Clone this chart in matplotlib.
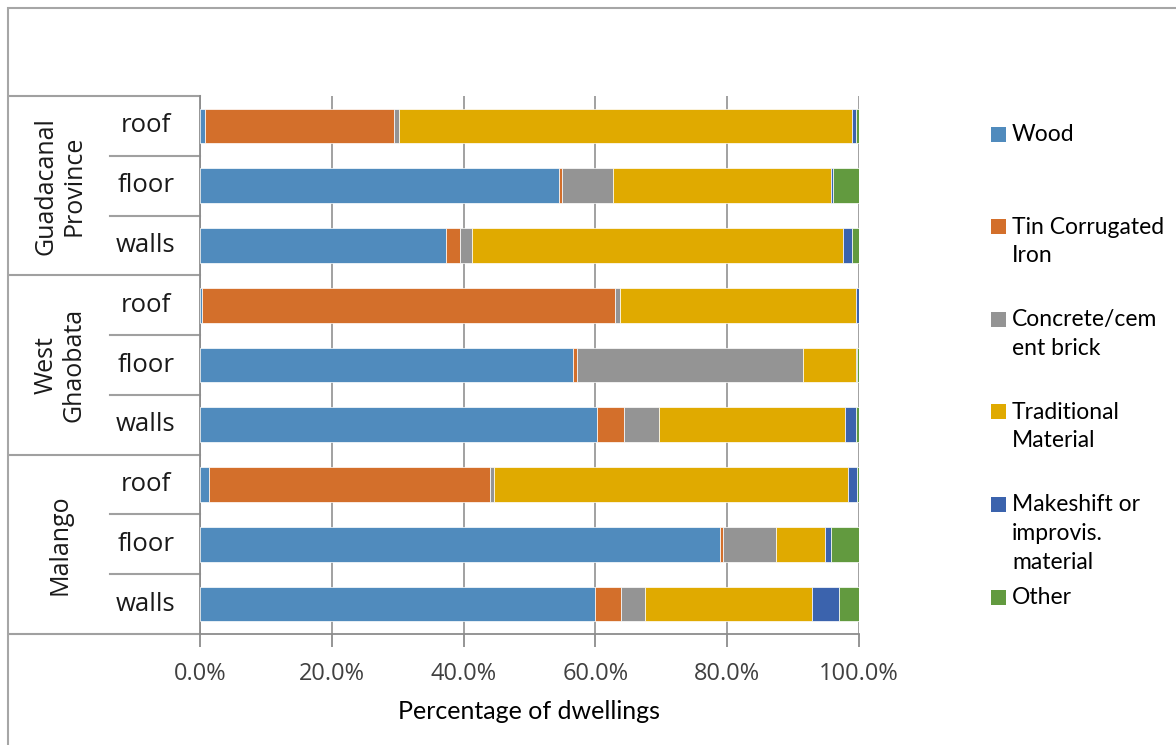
import matplotlib
matplotlib.use("Agg")
import matplotlib.pyplot as plt
import numpy as np
from matplotlib.patches import Rectangle
from matplotlib.lines import Line2D
import matplotlib.transforms as mtransforms
from matplotlib.ticker import FuncFormatter

# ---------------- data ----------------
groups = ["Guadacanal\nProvince", "West\nGhaobata", "Malango"]
parts = ["roof", "floor", "walls"]
series = ["Wood", "Tin Corrugated\nIron", "Concrete/cem\nent brick",
          "Traditional\nMaterial", "Makeshift or\nimprovis.\nmaterial", "Other"]
colors = ["#508BBD", "#D36F2B", "#949494", "#E0AA00", "#3B63AD", "#629A3F"]

# rows top to bottom: Guadacanal roof, floor, walls, West Ghaobata roof, floor, walls, Malango roof, floor, walls
wood     = [0.7, 54.5, 37.3, 0.3, 56.6, 60.2, 1.3, 78.9, 59.9]
tin      = [28.8, 0.4, 2.2, 62.7, 0.6, 4.2, 42.7, 0.5, 4.0]
concrete = [0.7, 7.7, 1.8, 0.8, 34.3, 5.3, 0.6, 8.0, 3.7]
trad     = [68.7, 33.1, 56.3, 35.7, 8.0, 28.1, 53.8, 7.5, 25.2]
makeshift= [0.7, 0.3, 1.3, 0.5, 0.2, 1.7, 1.3, 0.8, 4.1]
other    = [0.4, 4.0, 1.1, 0.0, 0.3, 0.5, 0.3, 4.3, 3.1]
values = [wood, tin, concrete, trad, makeshift, other]

xticks = [0, 20, 40, 60, 80, 100]

# ---------------- figure ----------------
W, H = 1176, 745
fig = plt.figure(figsize=(W / 100, H / 100), dpi=100)
top_px, bot_px = 96, 634
ax = fig.add_axes([200 / W, 1 - bot_px / H, 659 / W, (bot_px - top_px) / H])

gray = "#A0A0A0"
font_tick = "Open Sans"
font_leg = "Lato"

n = len(wood)
ypos = np.arange(n)
left = np.zeros(n)
for vals, col in zip(values, colors):
    v = np.array(vals, dtype=float)
    ax.barh(ypos, v, left=left, height=0.58, color=col,
            edgecolor="white", linewidth=0.5, zorder=3)
    left += v

ax.set_xlim(0, 100)
ax.set_ylim(n - 0.5, -0.5)
ax.set_xticks(xticks)
ax.xaxis.set_major_formatter(FuncFormatter(lambda x, p: f"{x:.1f}%"))
ax.set_yticks([])
ax.grid(axis="x", color="#9A9A9A", linewidth=1.3, zorder=0)
for s in ["top", "right"]:
    ax.spines[s].set_visible(False)
for s in ["left", "bottom"]:
    ax.spines[s].set_color("#8C8C8C")
    ax.spines[s].set_linewidth(1.3)
ax.tick_params(axis="x", length=9, width=1.3, color="#8C8C8C", direction="out",
               labelsize=17, labelcolor="#404040", pad=11)
for lab in ax.get_xticklabels():
    lab.set_family(font_tick)
ax.set_xlabel("Percentage of dwellings", fontsize=18, family=font_leg,
              color="black", labelpad=10)

# category table on the left
trans = mtransforms.blended_transform_factory(ax.transAxes, ax.transData)
x_outer = (10 - 200) / 659
x_inner = (110 - 200) / 659
for g in range(len(groups) + 1):
    yb = g * 3 - 0.5
    ax.add_line(Line2D([x_outer, 0], [yb, yb], transform=trans, color=gray,
                       linewidth=1.5, clip_on=False))
for g, gname in enumerate(groups):
    for k, p in enumerate(parts):
        row = g * 3 + k
        ax.text((146 - 200) / 659, row, p, transform=trans, ha="center",
                va="center", fontsize=18.5, family=font_tick, color="#1A1A1A")
        if k > 0:
            ax.add_line(Line2D([x_inner, 0], [row - 0.5, row - 0.5],
                               transform=trans, color=gray, linewidth=1.5,
                               clip_on=False))
    ax.text((60 - 200) / 659, g * 3 + 1, gname, transform=trans, ha="center",
            va="center", rotation=90, fontsize=18, family=font_tick,
            color="#1A1A1A", multialignment="center", linespacing=1.15)

# legend (manual, Excel style: handle aligned with first line)
leg_y0, leg_y1 = 134, 597
ys = np.linspace(leg_y0, leg_y1, len(series))
for name, col, yy in zip(series, colors, ys):
    fig.patches.append(Rectangle((991 / W, 1 - (yy + 7.5) / H), 15 / W, 15 / H,
                                 transform=fig.transFigure, facecolor=col,
                                 edgecolor="none"))
    fig.text(1012 / W, 1 - (yy - 10) / H, name, ha="left", va="top",
             fontsize=16.5, family=font_leg, color="black", linespacing=1.45)

# chart border (top/left visible)
fig.patches.append(Rectangle((8 / W, -0.1), 1.2, 1 - 8 / H + 0.1,
                             transform=fig.transFigure, fill=False,
                             edgecolor="#A6A6A6", linewidth=1.5))

fig.savefig("out.png", dpi=100)
